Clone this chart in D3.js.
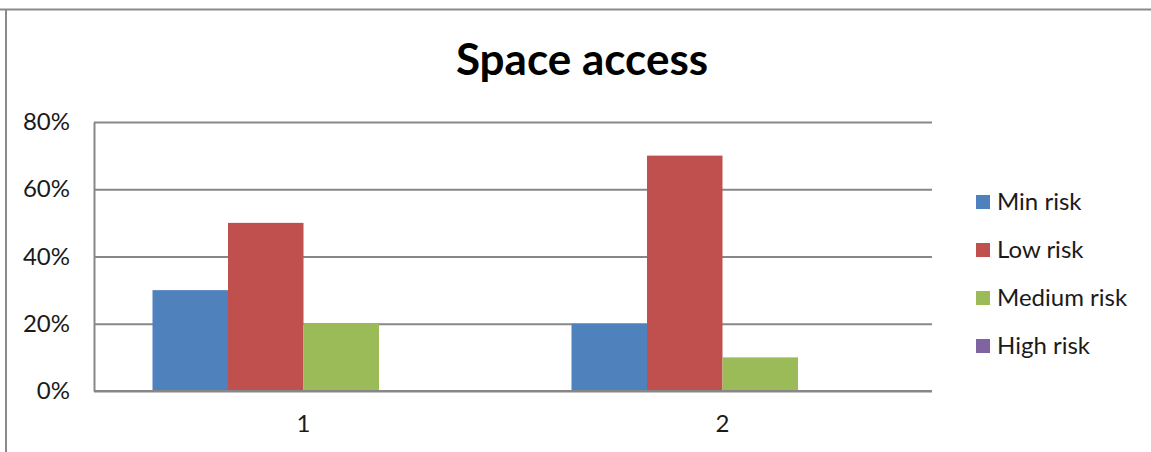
<!DOCTYPE html>
<html>
<head>
<meta charset="utf-8">
<script src="https://cdn.jsdelivr.net/npm/d3@7"></script>
<style>
  html, body { margin: 0; padding: 0; background: #fff; }
  svg { display: block; }
  text { font-family: Lato, "Open Sans", sans-serif; fill: #1a1a1a; }
</style>
</head>
<body>
<svg id="chart" width="1151" height="452"></svg>
<script>
// Chart data
const categories = ["1", "2"];
const seriesNames = ["Min risk", "Low risk", "Medium risk", "High risk"];
const minRisk = [0.30, 0.20];
const lowRisk = [0.50, 0.70];
const mediumRisk = [0.20, 0.10];
const highRisk = [0.00, 0.00];
const yTicks = [0, 0.2, 0.4, 0.6, 0.8];
const seriesColors = ["#4F81BD", "#C0504D", "#9BBB59", "#8064A2"];

const seriesValues = [minRisk, lowRisk, mediumRisk, highRisk];
const rows = categories.map((c, i) => ({
  category: c,
  values: seriesNames.map((s, j) => ({ series: s, value: seriesValues[j][i] }))
}));

const svg = d3.select("#chart");
const W = 1151, H = 452;
const labelFont = "Lato, 'Open Sans', sans-serif";

// Frame lines along top and left edges
svg.append("line").attr("x1", 0).attr("x2", W).attr("y1", 9.5).attr("y2", 9.5)
  .attr("stroke", "#8a8a8a").attr("stroke-width", 2);
svg.append("line").attr("x1", 6).attr("x2", 6).attr("y1", 9).attr("y2", H)
  .attr("stroke", "#8a8a8a").attr("stroke-width", 2);

const plot = { left: 94, right: 932, top: 122, bottom: 391 };

const y = d3.scaleLinear().domain([0, 0.8]).range([plot.bottom, plot.top]);
const x0 = d3.scaleBand().domain(categories).range([plot.left, plot.right]).padding(0);
const x1 = d3.scaleBand().domain(seriesNames).range([0, x0.bandwidth()])
  .paddingInner(0).paddingOuter(0.775);
const color = d3.scaleOrdinal().domain(seriesNames).range(seriesColors);

// Title
svg.append("text")
  .attr("x", 582).attr("y", 75)
  .attr("text-anchor", "middle")
  .style("font-size", "44px").style("font-weight", "bold")
  .style("fill", "#000")
  .text("Space access");

// Horizontal gridlines
svg.append("g")
  .attr("transform", `translate(${plot.left},0)`)
  .call(d3.axisLeft(y).tickValues(yTicks).tickSize(-(plot.right - plot.left)).tickFormat(""))
  .call(g => g.select(".domain").remove())
  .call(g => g.selectAll("line").attr("stroke", "#878787").attr("stroke-width", 2));

// Y axis with percent labels
svg.append("g")
  .attr("transform", `translate(${plot.left},0)`)
  .call(d3.axisLeft(y).tickValues(yTicks).tickSize(0).tickPadding(24).tickFormat(d3.format(".0%")))
  .call(g => g.select(".domain").attr("stroke", "#878787").attr("stroke-width", 2))
  .call(g => g.selectAll("text").style("font-size", "24px").style("fill", "#1a1a1a")
    .style("font-family", labelFont));

// Bars
const groups = svg.append("g").selectAll("g")
  .data(rows).join("g")
  .attr("transform", d => `translate(${x0(d.category)},0)`);

groups.selectAll("rect")
  .data(d => d.values).join("rect")
  .attr("x", d => x1(d.series))
  .attr("width", x1.bandwidth())
  .attr("y", d => y(d.value))
  .attr("height", d => y(0) - y(d.value))
  .attr("fill", d => color(d.series));

// Baseline redrawn on top of bars
svg.append("line")
  .attr("x1", plot.left).attr("x2", plot.right)
  .attr("y1", y(0)).attr("y2", y(0))
  .attr("stroke", "#878787").attr("stroke-width", 2);

// X axis category labels
svg.append("g")
  .attr("transform", `translate(0,${plot.bottom})`)
  .call(d3.axisBottom(x0).tickSize(0).tickPadding(24))
  .call(g => g.select(".domain").remove())
  .call(g => g.selectAll("text").style("font-size", "24px").style("fill", "#1a1a1a")
    .style("font-family", labelFont));

// Legend
const legend = svg.append("g").attr("transform", "translate(976,202)");
const items = legend.selectAll("g").data(seriesNames).join("g")
  .attr("transform", (d, i) => `translate(0,${i * 48})`);
items.append("rect").attr("x", 0).attr("y", -7).attr("width", 14).attr("height", 14)
  .attr("fill", d => color(d));
items.append("text").attr("x", 21).attr("y", 0).attr("dy", "0.35em")
  .style("font-size", "24px").text(d => d);
</script>
</body>
</html>
